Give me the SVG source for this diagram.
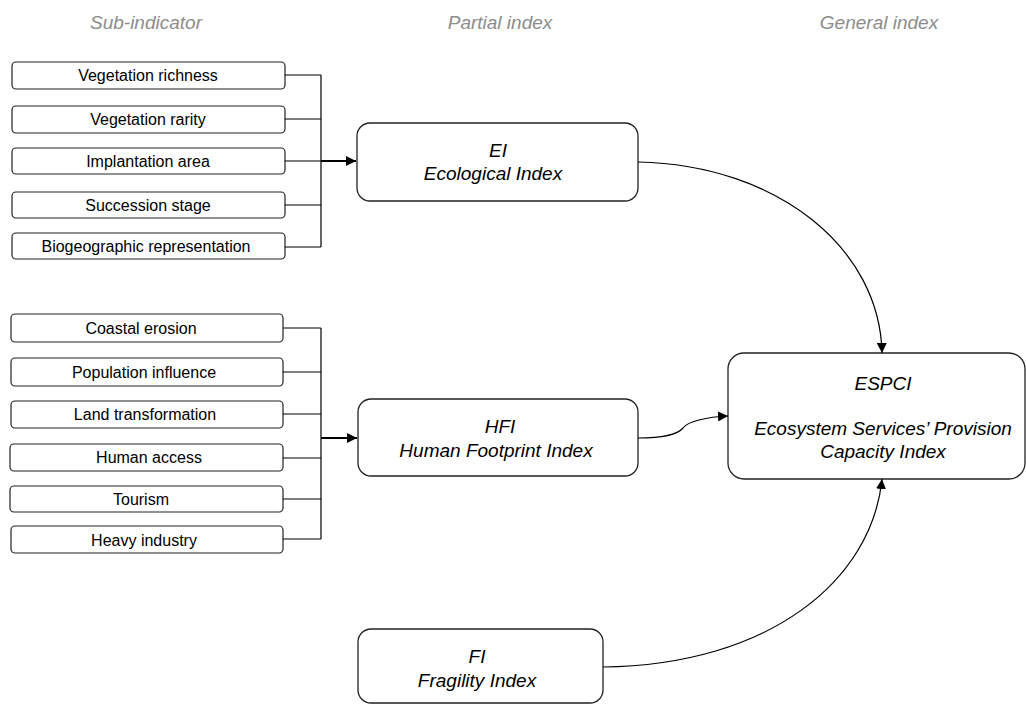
<svg xmlns="http://www.w3.org/2000/svg" width="1026" height="704" viewBox="0 0 1026 704">
<style>
.hdr{font-family:"Liberation Sans",Arial,sans-serif;font-size:19px;font-style:italic;fill:#8c8c8c;text-anchor:middle}
.sub rect{fill:#fff;stroke:#222;stroke-width:1.2}
.sub text{font-family:"Liberation Sans",Arial,sans-serif;font-size:16px;fill:#000;text-anchor:middle}
.idx rect{fill:#fff;stroke:#222;stroke-width:1.3}
.idx text{font-family:"Liberation Sans",Arial,sans-serif;font-size:19px;font-style:italic;fill:#000;text-anchor:middle}
.ln{fill:none;stroke:#000;stroke-width:1.2}
.thick{fill:none;stroke:#000;stroke-width:2}
</style>
<defs>
<marker id="arr" viewBox="0 0 10 10" refX="10" refY="5" markerWidth="10" markerHeight="10" markerUnits="userSpaceOnUse" orient="auto">
<path d="M0,0 L10,5 L0,10 Z" fill="#000"/>
</marker>
</defs>
<text class="hdr" x="146" y="29">Sub-indicator</text>
<text class="hdr" x="500" y="29">Partial index</text>
<text class="hdr" x="879" y="29">General index</text>

<g id="vegetation-richness" class="sub"><rect x="12" y="62" width="273" height="27" rx="4"/><text x="148" y="81">Vegetation richness</text></g>
<g id="vegetation-rarity" class="sub"><rect x="12" y="106" width="273" height="27" rx="4"/><text x="148" y="125">Vegetation rarity</text></g>
<g id="implantation-area" class="sub"><rect x="12" y="148" width="273" height="26" rx="4"/><text x="148" y="167">Implantation area</text></g>
<g id="succession-stage" class="sub"><rect x="12" y="192" width="273" height="26" rx="4"/><text x="148" y="211">Succession stage</text></g>
<g id="biogeographic-representation" class="sub"><rect x="12" y="233" width="273" height="26" rx="4"/><text x="146" y="252">Biogeographic representation</text></g>

<g id="coastal-erosion" class="sub"><rect x="11" y="314" width="272" height="28" rx="4"/><text x="141" y="334">Coastal erosion</text></g>
<g id="population-influence" class="sub"><rect x="11" y="358" width="272" height="28" rx="4"/><text x="144" y="378">Population influence</text></g>
<g id="land-transformation" class="sub"><rect x="11" y="401" width="272" height="27" rx="4"/><text x="145" y="420">Land transformation</text></g>
<g id="human-access" class="sub"><rect x="10" y="444" width="273" height="27" rx="4"/><text x="149" y="463">Human access</text></g>
<g id="tourism" class="sub"><rect x="10" y="486" width="273" height="26" rx="4"/><text x="141" y="505">Tourism</text></g>
<g id="heavy-industry" class="sub"><rect x="11" y="526" width="272" height="27" rx="4"/><text x="144" y="546">Heavy industry</text></g>

<g id="ei" class="idx"><rect x="357" y="123" width="281" height="78" rx="13"/><text x="498" y="157">EI</text><text x="493" y="180">Ecological Index</text></g>
<g id="hfi" class="idx"><rect x="358" y="399" width="280" height="77" rx="13"/><text x="500" y="433">HFI</text><text x="496" y="457">Human Footprint Index</text></g>
<g id="fi" class="idx"><rect x="358" y="629" width="245" height="74" rx="13"/><text x="477" y="663">FI</text><text x="477" y="687">Fragility Index</text></g>
<g id="espci" class="idx"><rect x="728" y="353" width="297" height="126" rx="16"/><text x="883" y="390">ESPCI</text><text x="883" y="435">Ecosystem Services’ Provision</text><text x="883" y="458">Capacity Index</text></g>

<g id="connectors">
<path class="ln" d="M285,75 H321 M285,119 H321 M285,161 H321 M285,205 H321 M285,247 H321 M321,75 V247"/>
<path class="thick" d="M321,161 H356" marker-end="url(#arr)"/>
<path class="ln" d="M283,328 H321 M283,372 H321 M283,414 H321 M283,458 H321 M283,499 H321 M283,539 H321 M321,328 V539"/>
<path class="thick" d="M321,438 H357" marker-end="url(#arr)"/>
<path class="ln" d="M638,162 C780,165 880,250 882,353" marker-end="url(#arr)"/>
<path class="ln" d="M638,438 C665,438 678,434 683,428 C688,421 708,417 728,416" marker-end="url(#arr)"/>
<path class="ln" d="M603,667 C770,665 872,580 882,479" marker-end="url(#arr)"/>
</g>
</svg>
